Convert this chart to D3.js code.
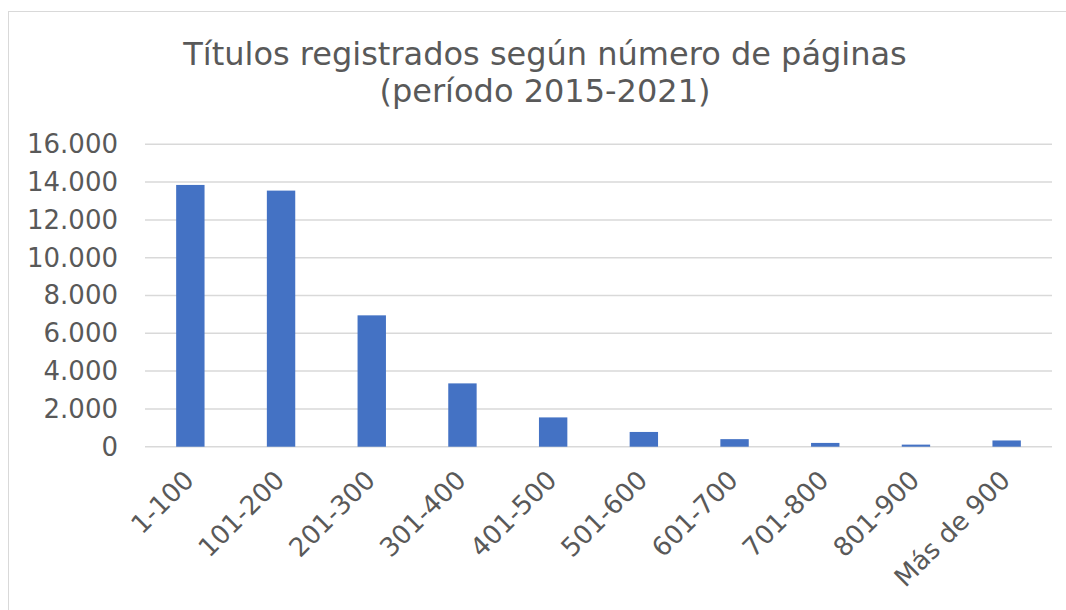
<!DOCTYPE html>
<html>
<head>
<meta charset="utf-8">
<script src="https://cdn.jsdelivr.net/npm/d3@7"></script>
<style>
  html, body { margin: 0; padding: 0; background: #fff; }
  svg { display: block; }
  text { font-family: Verdana, "DejaVu Sans", sans-serif; fill: #595959; }
</style>
</head>
<body>
<svg id="chart" width="1066" height="610"></svg>
<script>
const categories = ["1-100", "101-200", "201-300", "301-400", "401-500", "501-600", "601-700", "701-800", "801-900", "Más de 900"];
const values = [13850, 13550, 6950, 3350, 1550, 780, 400, 200, 110, 330];
const yTicks = [0, 2000, 4000, 6000, 8000, 10000, 12000, 14000, 16000];
const titleLines = ["Títulos registrados según número de páginas", "(período 2015-2021)"];

const svg = d3.select("#chart");
const W = 1066, H = 610;
const plot = { left: 145, right: 1052, top: 144.3, bottom: 446.7 };

// chart border
svg.append("rect")
  .attr("x", 8.5).attr("y", 11.5)
  .attr("width", W + 10).attr("height", H + 10)
  .attr("fill", "#fff").attr("stroke", "#d9d9d9").attr("stroke-width", 1);

const x = d3.scaleBand().domain(categories).range([plot.left, plot.right]).paddingInner(0.687).paddingOuter(0.3435);
const y = d3.scaleLinear().domain([0, 16000]).range([plot.bottom, plot.top]);

const fmt = v => d3.format(",")(v).replace(/,/g, ".");

// gridlines
svg.append("g").selectAll("line").data(yTicks).join("line")
  .attr("x1", plot.left).attr("x2", plot.right)
  .attr("y1", d => y(d)).attr("y2", d => y(d))
  .attr("stroke", "#d9d9d9").attr("stroke-width", 1.5);

// y axis labels
const yAxis = d3.axisLeft(y).tickValues(yTicks).tickFormat(fmt).tickSize(0).tickPadding(0);
const gy = svg.append("g").attr("transform", `translate(118,0)`).call(yAxis);
gy.select(".domain").remove();
gy.selectAll("text").attr("font-size", 26).attr("fill", "#595959")
  .style("font-family", "Verdana, 'DejaVu Sans', sans-serif");

// bars
svg.append("g").selectAll("rect").data(values).join("rect")
  .attr("x", (d, i) => x(categories[i]))
  .attr("width", x.bandwidth())
  .attr("y", d => y(d))
  .attr("height", d => y(0) - y(d))
  .attr("fill", "#4472c4");

// x axis labels
const xAxis = d3.axisBottom(x).tickSize(0).tickPadding(0);
const gx = svg.append("g").attr("transform", `translate(0,${plot.bottom})`).call(xAxis);
gx.select(".domain").remove();
gx.selectAll("text")
  .attr("font-size", 26).attr("fill", "#595959")
  .style("font-family", "Verdana, 'DejaVu Sans', sans-serif")
  .attr("text-anchor", "end")
  .attr("dy", null).attr("y", 0)
  .attr("transform", "translate(5,35) rotate(-45)");

// title
svg.append("text")
  .attr("x", 545).attr("y", 65)
  .attr("text-anchor", "middle")
  .attr("font-size", 32)
  .selectAll("tspan").data(titleLines).join("tspan")
  .attr("x", 545).attr("dy", (d, i) => i === 0 ? 0 : 37)
  .text(d => d);
</script>
</body>
</html>
